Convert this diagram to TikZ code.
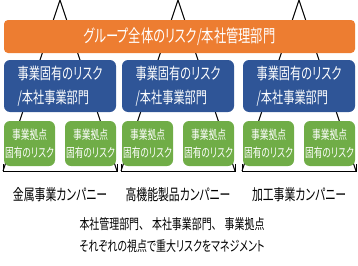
\documentclass[tikz,border=0pt]{standalone}
\usepackage{fontspec}
\newfontfamily\jp{Noto Sans CJK JP}[FakeStretch=0.7, RawFeature=+palt]
\usetikzlibrary{positioning}

\definecolor{gruppeorange}{HTML}{ED7D31}
\definecolor{spartenblau}{HTML}{2F5597}
\definecolor{basisgruen}{HTML}{70AD47}

\begin{document}
\begin{tikzpicture}[x=1pt, y=-1pt, line width=1pt,
		box/.style={draw=none, text=white, inner sep=0pt, align=center},
		gruppe/.style={box, fill=gruppeorange, rounded corners=4pt, minimum width=351pt, minimum height=33pt, font=\jp\fontsize{17.5}{19}\selectfont},
		sparte/.style={box, fill=spartenblau, rounded corners=6pt, minimum width=112pt, minimum height=52pt, align=left, font=\jp\fontsize{16}{24}\selectfont},
		basis/.style={box, fill=basisgruen, rounded corners=6pt, minimum width=51pt, minimum height=45pt, font=\jp\fontsize{12.5}{18}\selectfont},
		firma/.style={font=\jp\fontsize{15.5}{17}\selectfont}]
	\useasboundingbox (0,0) rectangle (358,265);
	%Dreiecke hinter den Kaesten
	\foreach \c [count=\i] in {60,178,299} {
		\coordinate (spitze\i) at (\c,0);
		\coordinate (links\i) at (\c-57,171);
		\coordinate (rechts\i) at (\c+57,171);
		\draw (links\i) -- (spitze\i) -- (rechts\i);
		\draw (links\i) ++(0,-7) -- (links\i) -- (rechts\i) -- ++(0,-7);
	}
	\node[gruppe] (gruppe) at (179.5,36.5) {グループ全体のリスク/本社管理部門};
	%Spalten
	\foreach \c/\name [count=\i] in {60/金属事業カンパニー, 178/高機能製品カンパニー, 299/加工事業カンパニー} {
		\node[sparte] (sparte\i) at (\c,86) {事業固有のリスク\\/本社事業部門};
		\node[basis] (basis\i a) at (\c-30.5,143.5) {事業拠点\\固有のリスク};
		\node[basis] (basis\i b) at (\c+30.5,143.5) {事業拠点\\固有のリスク};
		\node[firma] (firma\i) at (\c,195) {\name};
	}
	\node[anchor=west, align=left, inner sep=0pt, font=\jp\fontsize{14.2}{22}\selectfont] (fazit) at (79,235.5) {本社管理部門、\kern8pt本社事業部門、\kern8pt事業拠点\\それぞれの視点で重大リスクをマネジメント};
\end{tikzpicture}
\end{document}
